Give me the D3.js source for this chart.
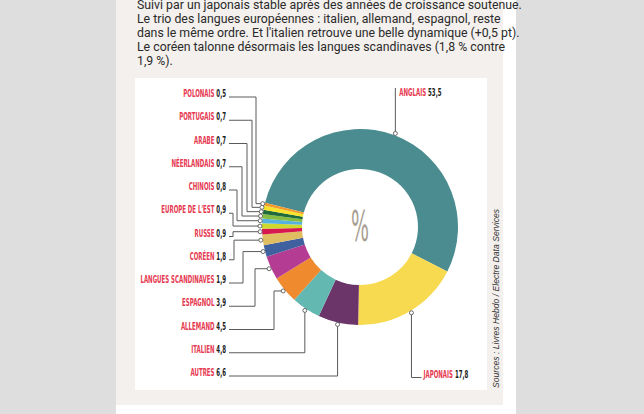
<!DOCTYPE html>
<html><head><meta charset="utf-8">
<script src="https://cdn.jsdelivr.net/npm/d3@7"></script>
<style>body{margin:0;background:#dedede;overflow:hidden}svg{display:block}</style>
</head><body><svg id="c" width="644" height="414"></svg>
<script>
// ---- data ----
const languages = ["ANGLAIS","JAPONAIS","AUTRES","ITALIEN","ALLEMAND","ESPAGNOL","LANGUES SCANDINAVES","CORÉEN","RUSSE","EUROPE DE L'EST","CHINOIS","NÉERLANDAIS","ARABE","PORTUGAIS","POLONAIS"];
const shares = [53.5,17.8,6.6,4.8,4.5,3.9,1.9,1.8,0.9,0.9,0.8,0.7,0.7,0.7,0.5];
const sliceColors = ["#4a8c8f","#f7da50","#6b3569","#63b8b1","#ef8a2f","#b43c92","#40619f","#e1bd62","#d7174f","#cfd82c","#56b3e0","#84bd41","#1f6b3b","#f7e42a","#f29a2b"];
const introLines = [
  "Suivi par un japonais stable après des années de croissance soutenue.",
  "Le trio des langues européennes : italien, allemand, espagnol, reste",
  "dans le même ordre. Et l'italien retrouve une belle dynamique (+0,5 pt).",
  "Le coréen talonne désormais les langues scandinaves (1,8 % contre",
  "1,9 %)."
];
const sourceText = "Sources : Livres Hebdo / Electre Data Services";
const centerLabel = "%";

// ---- layout (not data) ----
const cx = 360, cy = 227, rOuter = 98, rInner = 58;
const startDeg = -75.6;
const leftOrder = [14,13,12,11,10,9,8,7,6,5,4,3,2]; // indices listed top -> bottom
const leftElbows = [256,252,247,242,237,233,233,234,243,255,274,null,null];
const labelRight = 226, firstBase = 97, step = 23.25;
const labelFont = "'Liberation Sans Narrow','Arial Narrow','DejaVu Sans Condensed',sans-serif";
const labelScale = 0.56;
const red = "#e63950", dark = "#1b1b1b", lineCol = "#5a5a5a";

const fmt = v => d3.format(".1f")(v).replace(".", ",");

const svg = d3.select("#c");
// backgrounds
svg.append("rect").attr("x",116).attr("y",0).attr("width",400).attr("height",414).attr("fill","#ffffff");
svg.append("rect").attr("x",116).attr("y",0).attr("width",387).attr("height",405).attr("fill","#f3f0ed");
svg.append("rect").attr("x",135).attr("y",78).attr("width",352).attr("height",312).attr("fill","#ffffff");

// intro text
svg.append("g").selectAll("text").data(introLines).join("text")
  .attr("x",137).attr("y",(d,i)=>9+i*13.9)
  .attr("font-family","Roboto, 'Liberation Sans', sans-serif")
  .attr("font-size",12.3).attr("fill","#2a2a2a")
  .text(d=>d);

// donut
const pie = d3.pie().sort(null).value(d=>d)
  .startAngle(startDeg*Math.PI/180).endAngle(startDeg*Math.PI/180+2*Math.PI);
const arcs = pie(shares);
const arc = d3.arc().innerRadius(rInner).outerRadius(rOuter);
const g = svg.append("g").attr("transform",`translate(${cx},${cy})`);
g.selectAll("path").data(arcs).join("path")
  .attr("d",arc).attr("fill",(d,i)=>sliceColors[i]);

g.append("text").attr("transform","translate(0,13.5) scale(0.5,1)")
  .attr("text-anchor","middle").attr("font-family",labelFont)
  .attr("font-size",42).attr("fill","#a99f94").text(centerLabel);

const dotPos = d => {
  const a = (d.startAngle+d.endAngle)/2, r = rOuter+2;
  return [cx + r*Math.sin(a), cy - r*Math.cos(a)];
};

const lines = svg.append("g").attr("fill","none").attr("stroke",lineCol).attr("stroke-width",1);
const dots = [];

function label(x, y, i, anchor){
  const t = svg.append("text")
    .attr("transform",`translate(${x},${y}) scale(${labelScale},1)`)
    .attr("text-anchor",anchor).attr("font-family",labelFont)
    .attr("font-weight","bold").attr("font-size",10.8);
  t.append("tspan").attr("fill",red).text(languages[i]+" ");
  t.append("tspan").attr("fill",dark).text(fmt(shares[i]));
}

// left column
leftOrder.forEach((i,k)=>{
  const by = firstBase + k*step;
  const [dx,dy] = dotPos(arcs[i]);
  const ex = leftElbows[k] == null ? dx : leftElbows[k];
  lines.append("path").attr("d",`M229,${by}H${ex}V${dy}H${dx}`);
  dots.push([dx,dy]);
  label(labelRight, by, i, "end");
});

// anglais
{
  const [dx,dy] = dotPos(arcs[0]);
  lines.append("path").attr("d",`M${dx},${dy}V88`);
  dots.push([dx,dy]);
  label(dx+4, 96, 0, "start");
}
// japonais
{
  const [dx,dy] = dotPos(arcs[1]);
  lines.append("path").attr("d",`M${dx},${dy}V377.5H${dx+10}`);
  dots.push([dx,dy]);
  label(dx+12, 377.5, 1, "start");
}

svg.append("g").selectAll("circle").data(dots).join("circle")
  .attr("cx",d=>d[0]).attr("cy",d=>d[1]).attr("r",2)
  .attr("fill","#fff").attr("stroke",lineCol).attr("stroke-width",0.9);

// source
svg.append("text").attr("transform","translate(499,388) rotate(-90)")
  .attr("font-family","'Liberation Sans', sans-serif").attr("font-style","italic")
  .attr("font-size",8.6).attr("fill","#333").text(sourceText);
</script></body></html>
